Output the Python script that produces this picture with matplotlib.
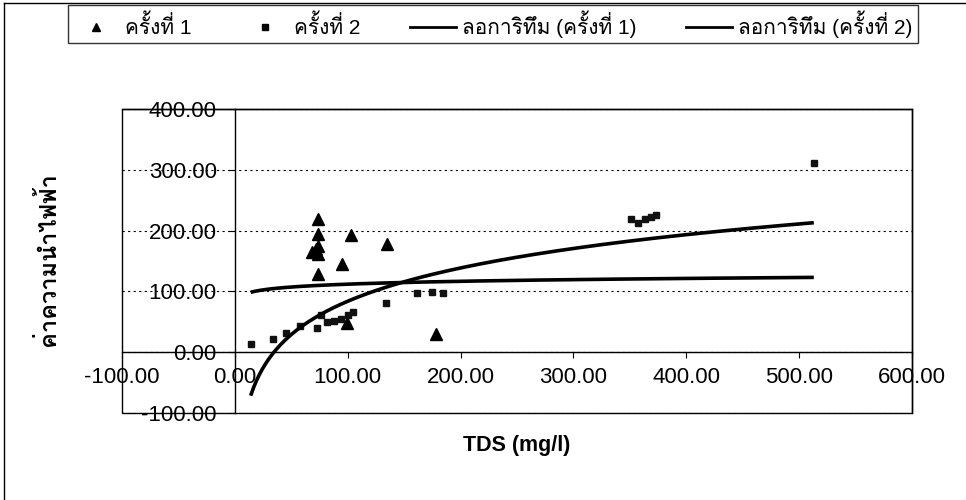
import matplotlib
matplotlib.use("Agg")
import numpy as np
import matplotlib.pyplot as plt
from matplotlib import font_manager
from matplotlib.ft2font import FT2Font
from matplotlib.lines import Line2D
from matplotlib.patches import Rectangle

# ---- data -------------------------------------------------------------
# round 1 (triangles): TDS (mg/l) and conductivity
tds_round1 = [74, 74, 74, 68, 74, 72, 74, 103, 95, 135, 99, 178]
ec_round1 = [219, 194, 175, 164, 161, 169, 128, 192, 145, 178, 48, 30]

# round 2 (squares)
tds_round2 = [14, 34, 45, 58, 73, 76, 82, 88, 94, 100, 105, 134, 161, 175, 184,
              351, 357, 363, 369, 373, 513]
ec_round2 = [14, 21, 32, 43, 40, 62, 50, 52, 55, 61, 66, 81, 97, 99, 98,
             219, 213, 219, 223, 225, 311]

# logarithmic trend lines  y = a*ln(x) + b
log_coef_round1 = (6.8, 80.6)
log_coef_round2 = (79.0, -280.0)

x_ticks = [-100, 0, 100, 200, 300, 400, 500, 600]
y_ticks = [-100, 0, 100, 200, 300, 400]

legend_labels = ["ครั้งที่ 1", "ครั้งที่ 2",
                 "ลอการิทึม (ครั้งที่ 1)", "ลอการิทึม (ครั้งที่ 2)"]
x_title = "TDS (mg/l)"
y_title = "ค่าความนำไฟฟ้า"

# ---- fonts: Latin face first, then any installed face with Thai glyphs --
thai_family = None
for entry in font_manager.fontManager.ttflist:
    try:
        if 0x0E04 in FT2Font(entry.fname).get_charmap():
            thai_family = entry.name
            break
    except Exception:
        pass
families = ["Liberation Sans"] + ([thai_family] if thai_family else []) + ["DejaVu Sans"]
plt.rcParams["font.family"] = families

# ---- figure -------------------------------------------------------------
W, H = 966, 500
fig = plt.figure(figsize=(W / 100, H / 100), dpi=100)
fig.patch.set_facecolor("white")

def fx(px):
    return px / W

def fy(py):
    return 1 - py / H

ax = fig.add_axes([fx(122), fy(413), fx(912) - fx(122), fy(109) - fy(413)])
ax.set_xlim(x_ticks[0], x_ticks[-1])
ax.set_ylim(y_ticks[0], y_ticks[-1])

# axes cross at the origin
ax.spines["left"].set_position(("data", 0))
ax.spines["bottom"].set_position(("data", 0))
for s in ax.spines.values():
    s.set_linewidth(1.0)
    s.set_color("black")
ax.add_patch(Rectangle((0, 0), 1, 1, transform=ax.transAxes, fill=False,
                       lw=1.0, edgecolor="black", clip_on=False, zorder=3))

ax.set_xticks(x_ticks)
ax.set_yticks(y_ticks)
ax.set_xticklabels([f"{v:.2f}" for v in x_ticks])
ax.set_yticklabels([f"{v:.2f}" for v in y_ticks])
ax.tick_params(axis="both", direction="out", length=4, width=0.8,
               labelsize=16, colors="black")
ax.tick_params(axis="x", pad=7)
ax.tick_params(axis="y", pad=9)

ax.yaxis.grid(True, linestyle=(0, (2, 3)), linewidth=0.8, color="black")
ax.set_axisbelow(True)

# scatter series
ax.plot(tds_round1, ec_round1, linestyle="none", marker="^", ms=8,
        color="black", zorder=4)
ax.plot(tds_round2, ec_round2, linestyle="none", marker="s", ms=4,
        color="#111111", zorder=4)

# trend lines over the range of the data
x_all = np.array(tds_round1 + tds_round2, dtype=float)
xs = np.linspace(x_all.min(), x_all.max(), 400)
for a, b in (log_coef_round1, log_coef_round2):
    ax.plot(xs, a * np.log(xs) + b, color="black", lw=2.6,
            solid_capstyle="butt", zorder=5)

# axis titles
fig.text(fx(517), fy(445), x_title, ha="center", va="center",
         fontsize=15.5, fontweight="bold")
fig.text(fx(48), fy(259), y_title, ha="center", va="center",
         rotation=90, fontsize=17, fontweight="bold")

# legend
handles = [
    Line2D([], [], linestyle="none", marker="^", ms=6, color="black"),
    Line2D([], [], linestyle="none", marker="s", ms=4, color="black"),
    Line2D([], [], color="black", lw=2),
    Line2D([], [], color="black", lw=2),
]
leg = fig.legend(handles, legend_labels, loc="lower left",
                 bbox_to_anchor=(fx(68), fy(43), fx(918) - fx(68), fy(11) - fy(43)),
                 mode="expand", ncol=4, frameon=True, fancybox=False,
                 edgecolor="black", fontsize=15, handlelength=2.2,
                 handletextpad=0.3, columnspacing=0.4, borderaxespad=0,
                 borderpad=0.25)
leg.get_frame().set_linewidth(1.0)

# outer chart border (left and top edges visible)
fig.add_artist(Line2D([fx(4), fx(4)], [0, fy(3)], color="black", lw=1.0))
fig.add_artist(Line2D([fx(4), 1], [fy(3), fy(3)], color="black", lw=1.0))

fig.savefig("out.png", dpi=100, facecolor="white")
